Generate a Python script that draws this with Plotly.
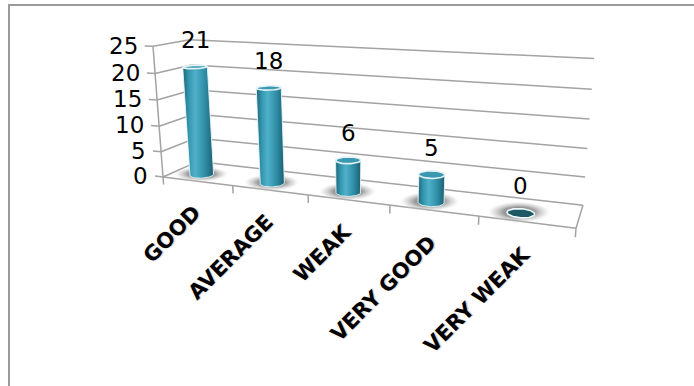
import numpy as np
import plotly.graph_objects as go

# ---- data -------------------------------------------------------------
categories = ["GOOD", "AVERAGE", "WEAK", "VERY GOOD", "VERY WEAK"]
counts = [21, 18, 6, 5, 0]
value_ticks = [0, 5, 10, 15, 20, 25]

# ---- canvas -----------------------------------------------------------
W, H = 694, 386

# ---- simple perspective camera for the 3-D column look -----------------
FOCAL = 730.0
PRINCIPAL = (375.0, 145.0)
EYE = np.array([5.541, -7.217, 2.680])
HEADING = np.array([-0.3523, 0.9358])
PITCH = np.radians(14.6)

_c, _s = np.cos(PITCH), np.sin(PITCH)
FWD = np.array([HEADING[0] * _c, HEADING[1] * _c, -_s])
RIGHT = np.array([HEADING[1], -HEADING[0], 0.0])
UP = np.array([HEADING[0] * _s, HEADING[1] * _s, _c])

N_CAT = len(categories)
DEPTH = 0.75               # floor depth in category units
VMAX = value_ticks[-1]
ZSCALE = 1.626 / VMAX      # world height per count
BAR_R = 0.145              # column radius
BAR_DX = 0.4               # column position inside its category slot
BAR_DY = 0.25              # column position along the depth


def project(x, y, v):
    x, y, v = np.broadcast_arrays(np.asarray(x, float), np.asarray(y, float),
                                  np.asarray(v, float))
    p = np.stack([x, y, v * ZSCALE], axis=-1) - EYE
    d = p @ FWD
    sx = PRINCIPAL[0] + FOCAL * (p @ RIGHT) / d
    sy = PRINCIPAL[1] - FOCAL * (p @ UP) / d
    return sx, sy


def hull(px, py):
    pts = sorted(set(zip(np.round(px, 3), np.round(py, 3))))

    def cross(o, a, b):
        return (a[0] - o[0]) * (b[1] - o[1]) - (a[1] - o[1]) * (b[0] - o[0])

    lower, upper = [], []
    for p in pts:
        while len(lower) >= 2 and cross(lower[-2], lower[-1], p) <= 0:
            lower.pop()
        lower.append(p)
    for p in reversed(pts):
        while len(upper) >= 2 and cross(upper[-2], upper[-1], p) <= 0:
            upper.pop()
        upper.append(p)
    ring = lower[:-1] + upper[:-1]
    ring.append(ring[0])
    xs, ys = zip(*ring)
    return list(xs), list(ys)


def circle(cx, cy, v, r, n=72):
    t = np.linspace(0, 2 * np.pi, n, endpoint=True)
    return project(cx + r * np.cos(t), cy + r * np.sin(t), np.full_like(t, v))


fig = go.Figure()

GRID = "#a3a3a3"


def add_lines(segments, color=GRID, width=1.5):
    xs, ys = [], []
    for a, b in segments:
        sx, sy = project(*np.array([a, b]).T)
        xs += list(sx) + [None]
        ys += list(sy) + [None]
    fig.add_trace(go.Scatter(x=xs, y=ys, mode="lines", hoverinfo="skip",
                             line=dict(color=color, width=width),
                             showlegend=False))


# walls: side wall and back wall grid lines
segs = []
for v in value_ticks:
    segs.append(((0, 0, v), (0, DEPTH, v)))
    segs.append(((0, DEPTH, v), (N_CAT, DEPTH, v)))
# floor edges and value axis line
segs.append(((0, 0, 0), (N_CAT, 0, 0)))
segs.append(((N_CAT, 0, 0), (N_CAT, DEPTH, 0)))
segs.append(((0, 0, 0), (0, 0, VMAX)))
# tick marks
for v in value_ticks:
    segs.append(((0, 0, v), (-0.12, 0, v)))
for i in range(N_CAT + 1):
    segs.append(((i, 0, 0), (i, 0, -1.5)))
add_lines(segs)

# soft floor shadows
for i, val in enumerate(counts):
    cx, cy = i + BAR_DX, BAR_DY
    sx, sy = circle(cx - 0.03, cy + 0.04, 0, BAR_R * 2.4)
    fig.add_trace(go.Scatter(
        x=sx, y=sy, mode="lines", fill="toself", line=dict(width=0),
        fillgradient=dict(type="radial", colorscale=[
            [0.0, "rgba(70,70,70,0.95)"],
            [0.5, "rgba(120,120,120,0.7)"],
            [0.8, "rgba(190,190,190,0.35)"],
            [1.0, "rgba(255,255,255,0)"]]),
        hoverinfo="skip", showlegend=False))

# columns
BODY_SCALE = [[0.0, "#1d6577"], [0.2, "#3597b0"], [0.4, "#4fb1c8"],
              [0.7, "#3190a9"], [1.0, "#1b5f70"]]
for i, val in enumerate(counts):
    cx, cy = i + BAR_DX, BAR_DY
    bx, by = circle(cx, cy, 0, BAR_R)
    if val > 0:
        tx, ty = circle(cx, cy, val, BAR_R)
        hx, hy = hull(np.concatenate([bx, tx]), np.concatenate([by, ty]))
        fig.add_trace(go.Scatter(
            x=hx, y=hy, mode="lines", fill="toself",
            line=dict(color="rgba(230,245,250,0.9)", width=1),
            fillgradient=dict(type="horizontal", colorscale=BODY_SCALE),
            hoverinfo="skip", showlegend=False))
        fig.add_trace(go.Scatter(
            x=tx, y=ty, mode="lines", fill="toself", fillcolor="#3b98b1",
            line=dict(color="#e4f3f7", width=1.6),
            hoverinfo="skip", showlegend=False))
    else:
        fig.add_trace(go.Scatter(
            x=bx, y=by, mode="lines", fill="toself", fillcolor="#1e5865",
            line=dict(color="#eef7f9", width=1.6),
            hoverinfo="skip", showlegend=False))

annotations = []
NUM_FONT = dict(family="DejaVu Sans", size=23, color="#000000")

# value axis labels
for v in value_ticks:
    sx, sy = project(-0.12, 0, v)
    annotations.append(dict(x=float(sx) - 5, y=float(sy), text=str(v),
                            xanchor="right", yanchor="middle",
                            showarrow=False, font=NUM_FONT))

# data labels above the columns
for i, val in enumerate(counts):
    sx, sy = project(i + BAR_DX, BAR_DY, val)
    annotations.append(dict(x=float(sx), y=float(sy), text=str(val),
                            xanchor="center", yanchor="middle", yshift=27,
                            showarrow=False, font=NUM_FONT))

# category labels, rotated
for i, name in enumerate(categories):
    sx, sy = project(i + 0.5, 0, 0)
    annotations.append(dict(x=float(sx) + 11, y=float(sy) + 17, text=name,
                            textangle=-45, xanchor="right", yanchor="top",
                            showarrow=False,
                            font=dict(family="DejaVu Sans", size=21,
                                      color="#000000", weight="bold",
                                      shadow="1px 1px 1px rgba(0,0,0,0.2)")))

fig.update_layout(
    width=W, height=H, autosize=False,
    margin=dict(l=0, r=0, t=0, b=0),
    paper_bgcolor="white", plot_bgcolor="white",
    xaxis=dict(range=[0, W], visible=False, fixedrange=True),
    yaxis=dict(range=[H, 0], visible=False, fixedrange=True),
    annotations=annotations,
    shapes=[dict(type="rect", xref="x", yref="y", x0=9, y0=5, x1=705, y1=400,
                 line=dict(color="#9a9a9a", width=2), layer="below")],
    showlegend=False,
)

fig.write_html("out.html")
